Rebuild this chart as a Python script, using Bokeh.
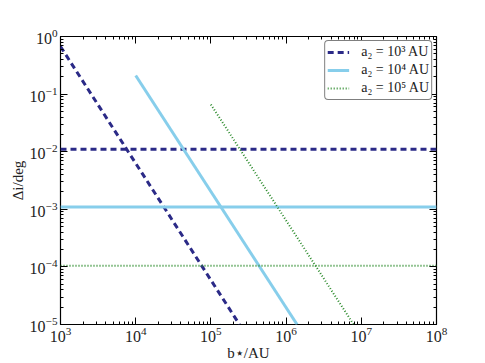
from bokeh.plotting import figure
from bokeh.models import LogAxis, Legend, LegendItem, FixedTicker, Range1d
from bokeh.embed import file_html
from bokeh.resources import INLINE

# ---- data ----
x_range_vals = [1e3, 1e8]
# horizontal levels
h_navy = [1.1e-2, 1.1e-2]
h_blue = [1.1e-3, 1.1e-3]
h_green = [1.05e-4, 1.05e-4]
# descending branches (straight in log-log)
d_navy_x = [1e3, 2.4e5]
d_navy_y = [0.67, 1e-5]
d_blue_x = [1e4, 1.4e6]
d_blue_y = [0.21, 1e-5]
d_green_x = [1e5, 7.9e6]
d_green_y = [0.066, 1e-5]
labels = ["a₂ = 10³ AU", "a₂ = 10⁴ AU", "a₂ = 10⁵ AU"]

NAVY = "#2b2a87"
BLUE = "#87ceeb"
GREEN = "#2a8a2a"
FONT = "Liberation Serif"

p = figure(width=485, height=363, x_axis_type="log", y_axis_type="log",
           x_range=Range1d(1e3, 1e8), y_range=Range1d(1e-5, 1e0),
           output_backend="svg", toolbar_location=None,
           min_border_left=60, min_border_right=49, min_border_top=36, min_border_bottom=37)
p.xgrid.visible = False
p.ygrid.visible = False
p.outline_line_color = "black"
p.outline_line_width = 1.2

r1 = p.line(x_range_vals, h_navy, line_color=NAVY, line_width=3, line_dash="6 4")
p.line(d_navy_x, d_navy_y, line_color=NAVY, line_width=3, line_dash="6 4")
r2 = p.line(x_range_vals, h_blue, line_color=BLUE, line_width=3)
p.line(d_blue_x, d_blue_y, line_color=BLUE, line_width=3)
r3 = p.line(x_range_vals, h_green, line_color=GREEN, line_width=2, line_dash="1 2")
p.line(d_green_x, d_green_y, line_color=GREEN, line_width=2, line_dash="1 2")

xt = FixedTicker(ticks=[1e3, 1e4, 1e5, 1e6, 1e7, 1e8],
                 minor_ticks=[m * 10**e for e in range(3, 8) for m in range(2, 10)])
yt = FixedTicker(ticks=[1e-5, 1e-4, 1e-3, 1e-2, 1e-1, 1e0],
                 minor_ticks=[m * 10**e for e in range(-5, 0) for m in range(2, 10)])

def style(ax, labels_on=True):
    ax.major_tick_in = 7
    ax.major_tick_out = 0
    ax.minor_tick_in = 3
    ax.minor_tick_out = 0
    ax.axis_line_color = None
    ax.major_tick_line_color = "black"
    ax.minor_tick_line_color = "black"
    ax.major_label_text_font = FONT
    ax.major_label_text_font_size = "16px"
    ax.major_label_text_color = "#222222"
    ax.axis_label_text_font = FONT
    ax.axis_label_text_font_style = "normal"
    ax.axis_label_text_font_size = "15px"
    ax.axis_label_text_color = "#222222"
    if not labels_on:
        ax.major_label_text_font_size = "1px"
        ax.major_label_text_color = None
        ax.major_label_standoff = 0

p.xaxis.ticker = xt
p.yaxis.ticker = yt
for ax in p.xaxis:
    style(ax)
    ax.major_label_standoff = 2
    ax.axis_label = "b⋆/AU"
    ax.axis_label_standoff = 0
for ax in p.yaxis:
    style(ax)
    ax.major_label_standoff = 3
    ax.axis_label = "Δi/deg"
    ax.axis_label_standoff = 1

top = LogAxis(ticker=xt)
style(top, False)
p.add_layout(top, "above")
right = LogAxis(ticker=yt)
style(right, False)
p.add_layout(right, "right")

leg = Legend(items=[LegendItem(label=labels[0], renderers=[r1]),
                    LegendItem(label=labels[1], renderers=[r2]),
                    LegendItem(label=labels[2], renderers=[r3])],
             location="top_right")
leg.label_text_font = FONT
leg.label_text_font_size = "14px"
leg.label_text_color = "#222222"
leg.border_line_color = "black"
leg.border_line_width = 1.2
leg.border_radius = 4
leg.margin = 4
leg.padding = 2
leg.spacing = 0
leg.label_height = 18
leg.glyph_height = 18
leg.glyph_width = 22
leg.label_standoff = 12
leg.background_fill_alpha = 1
p.add_layout(leg)

open("out.html", "w").write(file_html(p, INLINE))
